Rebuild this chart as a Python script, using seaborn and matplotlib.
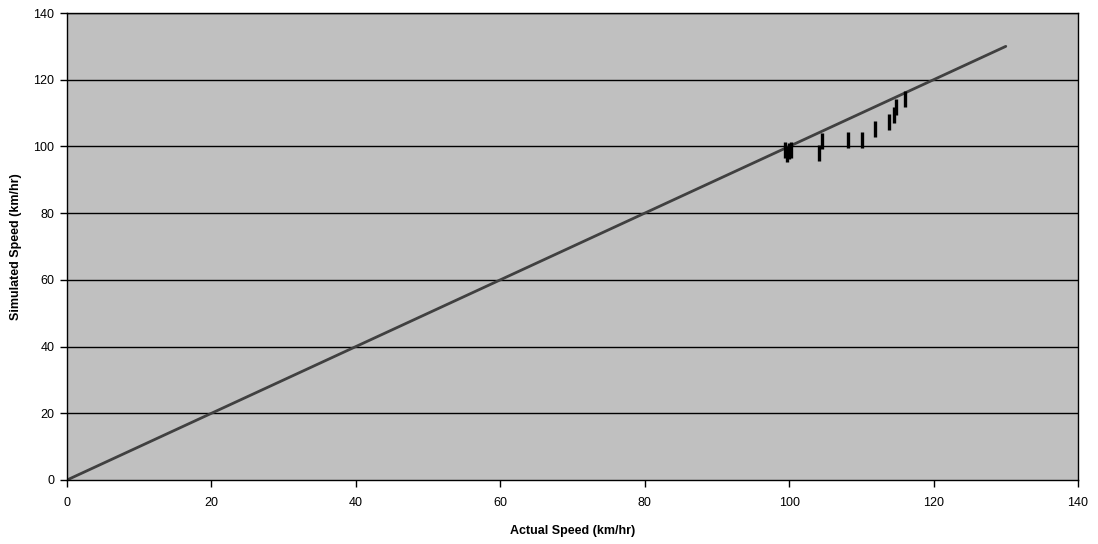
import matplotlib
matplotlib.use("Agg")
import matplotlib.pyplot as plt
import seaborn as sns
import pandas as pd

# Observed vs simulated speeds (km/hr)
actual_speed = [99.4, 99.7, 100.0, 100.3, 104.1, 104.6, 108.2, 110.1, 111.9, 113.8, 114.5, 114.8, 116.0]
simulated_speed = [99.0, 97.6, 98.6, 99.0, 97.9, 101.6, 101.9, 101.9, 105.1, 107.2, 109.3, 111.8, 114.1]

# Line of equality
line_x = [0, 130]
line_y = [0, 130]

ticks = [0, 20, 40, 60, 80, 100, 120, 140]

sns.set_theme(style="white")
plt.rcParams['font.family'] = ['Liberation Sans', 'DejaVu Sans']

fig = plt.figure(figsize=(10.98, 5.44), dpi=100)
ax = fig.add_axes([67 / 1098, 64 / 544, 1011 / 1098, 467 / 544])
ax.set_facecolor("#c0c0c0")

for t in ticks[1:]:
    ax.axhline(t, color="black", linewidth=1.0, zorder=1)

sns.lineplot(x=line_x, y=line_y, ax=ax, color="#404040", linewidth=2.0, zorder=2)

pts = pd.DataFrame({"actual": actual_speed, "simulated": simulated_speed})
sns.scatterplot(data=pts, x="actual", y="simulated", ax=ax, marker="|", s=120,
                linewidth=2.4, color="black", zorder=3)

ax.set_xlim(0, 140)
ax.set_ylim(0, 140)
ax.set_xticks(ticks)
ax.set_yticks(ticks)
ax.tick_params(axis="both", direction="out", length=5, width=1, color="black",
               labelsize=9, labelcolor="black", bottom=True, left=True)
ax.tick_params(axis="x", pad=7)
ax.tick_params(axis="y", pad=4)
for sp in ax.spines.values():
    sp.set_color("black")
    sp.set_linewidth(1.0)

ax.set_xlabel("Actual Speed (km/hr)", fontsize=9, fontweight="bold",
              labelpad=12, color="black")
ax.set_ylabel("Simulated Speed (km/hr)", fontsize=9, fontweight="bold",
              labelpad=8, color="black")

fig.savefig("out.png", dpi=100, facecolor="white")
